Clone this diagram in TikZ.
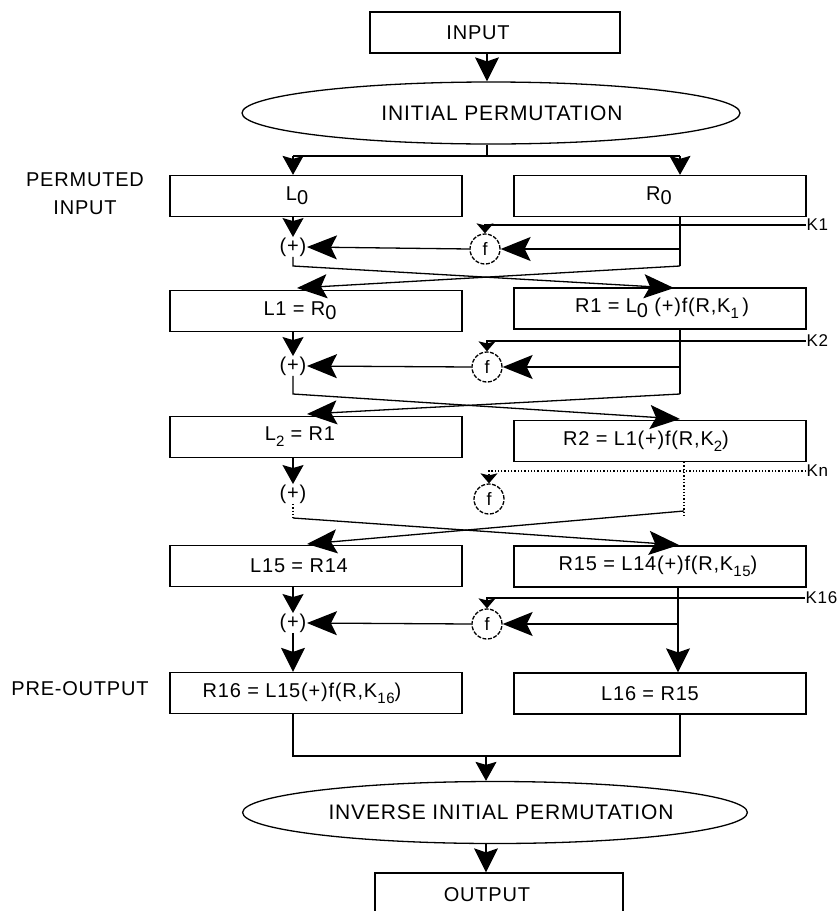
\documentclass[tikz,border=0pt]{standalone}
\usepackage{fontspec}
\setmainfont{Liberation Sans}[LetterSpace=4]
\usetikzlibrary{arrows.meta,shapes.geometric}
\newcommand\sbs[1]{\raisebox{-0.3em}{\fontsize{15}{15}\selectfont #1}}
\newcommand\lowz{\raisebox{-0.22em}{0}}
\newcommand\tsh[2]{\hspace*{#1pt}#2}
\begin{document}
\begin{tikzpicture}[x=1pt,y=-1pt,line width=1.3pt,
  every node/.style={font=\fontsize{20}{24}\selectfont},
  box/.style={draw,rectangle,minimum width=292pt,minimum height=41pt,inner sep=0pt},
  perm/.style={draw,ellipse,minimum width=498pt,minimum height=62pt,inner sep=0pt,font=\fontsize{21}{24}\selectfont},
  fbox/.style={draw,circle,minimum size=30pt,inner sep=0pt,dash pattern=on 4pt off 1.5pt,font=\fontsize{18}{20}\selectfont},
  xor/.style={inner sep=0pt},
  klabel/.style={anchor=west,inner sep=0pt,font=\fontsize{17}{20}\selectfont},
  side/.style={inner sep=0pt,align=center,font=\fontsize{20}{28}\selectfont},
  hzarrow/.style={-{Stealth[length=30pt,width=24pt,inset=6pt]}},
  bigarrow/.style={-{Stealth[length=24pt,width=24pt,inset=4pt]}},
  midarrow/.style={-{Stealth[length=19pt,width=21pt,inset=3pt]}},
  smallarrow/.style={-{Stealth[length=10pt,width=17pt,inset=2pt]}}]
\useasboundingbox (0,0) rectangle (839,911);

% columns
\coordinate (cL) at (293,0);
\coordinate (cR) at (680,0);
\coordinate (cRn) at (684,0);

% top
\node[box,minimum width=250pt] (IN) at (495,32.5) {\tsh{-34}{INPUT}};
\node[perm] (IP) at (491,113) {\tsh{22}{INITIAL PERMUTATION}};
\node[side] (pin) at (85,194) {PERMUTED\\INPUT};

% boxes
\node[box] (L0) at (316,196) {\tsh{-38}{L\lowz}};
\node[box] (R0) at (660,196) {\tsh{-2}{R\lowz}};
\node[box] (L1) at (316,311) {\tsh{-32}{L1 = R\lowz}};
\node[box] (R1) at (660,308.5) {\tsh{4}{R1 = L\lowz\ (+)f(R,K\sbs{1}\,)}};
\node[box] (L2) at (316,437) {\tsh{-32}{L\sbs{2} = R1}};
\node[box] (R2) at (660,441) {\tsh{-28}{R2 = L1(+)f(R,K\sbs{2})}};
\node[box] (L15) at (316,566) {\tsh{-34}{L15 = R14}};
\node[box] (R15) at (660,566.5) {\tsh{-4}{R15 = L14(+)f(R,K\sbs{15})}};
\node[box] (R16) at (316,693) {\tsh{-28}{R16 = L15(+)f(R,K\sbs{16})}};
\node[box] (L16) at (660,693.5) {\tsh{-20}{L16 = R15}};
\node[side] (pout) at (80,689) {PRE-OUTPUT};

% xor and f nodes
\node[xor] (p1) at (293,247) {(+)};
\node[xor] (p2) at (293,366) {(+)};
\node[xor] (p3) at (293,494) {(+)};
\node[xor] (p4) at (293,623) {(+)};
\node[fbox] (f1) at (485,249) {f};
\node[fbox] (f2) at (487,367) {f};
\node[fbox] (f3) at (489,499) {f};
\node[fbox] (f4) at (487,624) {f};

% key labels
\node[klabel] (k1) at (806,225) {K1};
\node[klabel] (k2) at (806,341) {K2};
\node[klabel] (kn) at (806,471) {Kn};
\node[klabel] (k16) at (805,598) {K16};

% bottom
\node[perm] (IIP) at (495,812.5) {\tsh{12}{INVERSE INITIAL PERMUTATION}};
\node[box,minimum width=248pt,minimum height=76pt] (OUT) at (499,911) {};
\node[inner sep=0pt] (outt) at (487,895) {OUTPUT};

% top connectors
\coordinate (split) at (487,156);
\draw[bigarrow] (IN.south -| split) -- (IP.north -| split);
\draw (IP.south -| split) -- (split);
\draw (split -| cL) -- (split -| cR);
\draw[midarrow] (split -| cL) -- (L0.north -| cL);
\draw[midarrow] (split -| cR) -- (R0.north -| cR);

% round 1
\coordinate (r0b) at (680,266);
\draw[midarrow] (L0.south -| cL) -- (p1.north);
\draw[smallarrow] (k1.west) -- (k1.west -| f1) -- (f1.north);
\draw (R0.south -| cR) -- (r0b);
\draw[hzarrow] (f1 -| cR) -- (f1.east);
\draw[hzarrow] (f1.west) -- (p1.east);
\coordinate (t1r) at (674,288);
\coordinate (t1l) at (297,288);
\draw[hzarrow] (p1.south) -- (p1.south |- r0b) -- (t1r);
\draw[hzarrow] (r0b) -- (t1l);

% round 2
\coordinate (r1b) at (680,394);
\draw[midarrow] (L1.south -| cL) -- (p2.north);
\draw[smallarrow] (k2.west) -- (k2.west -| f2) -- (f2.north);
\draw (R1.south -| cR) -- (r1b);
\draw[hzarrow] (f2 -| cR) -- (f2.east);
\draw[hzarrow] (f2.west) -- (p2.east);
\coordinate (t2r) at (680,419);
\coordinate (t2l) at (307,414);
\draw[hzarrow] (p2.south) -- (p2.south |- r1b) -- (t2r);
\draw[hzarrow] (r1b) -- (t2l);

% round n (dotted)
\coordinate (r2m) at (684,511);
\coordinate (r2b) at (684,518);
\draw[midarrow] (L2.south -| cL) -- (p3.north);
\draw[dotted,smallarrow] (kn.west) -- (kn.west -| f3) -- (f3.north);
\draw[dotted] (R2.south -| cRn) -- (r2b);
\draw[dotted] (p3.south) -- (p3.south |- r2b);
\coordinate (t3r) at (679,545);
\coordinate (t3l) at (307,544);
\draw[hzarrow] (p3.south |- r2b) -- (t3r);
\draw[hzarrow] (r2m) -- (t3l);

% round 16
\coordinate (c16) at (678,0);
\draw[midarrow] (L15.south -| cL) -- (p4.north);
\draw[smallarrow] (k16.west) -- (k16.west -| f4) -- (f4.north);
\draw[bigarrow] (R15.south -| c16) -- (L16.north -| c16);
\draw[hzarrow] (f4 -| c16) -- (f4.east);
\draw[hzarrow] (f4.west) -- (p4.east);
\draw[bigarrow] (p4.south) -- (R16.north -| cL);

% join and output
\coordinate (j) at (486,756);
\draw (R16.south -| cL) -- (j -| cL) -- (j -| cR) -- (L16.south -| cR);
\draw[midarrow] (j) -- (IIP.north -| j);
\draw[bigarrow] (IIP.south -| j) -- (OUT.north -| j);
\end{tikzpicture}
\end{document}
